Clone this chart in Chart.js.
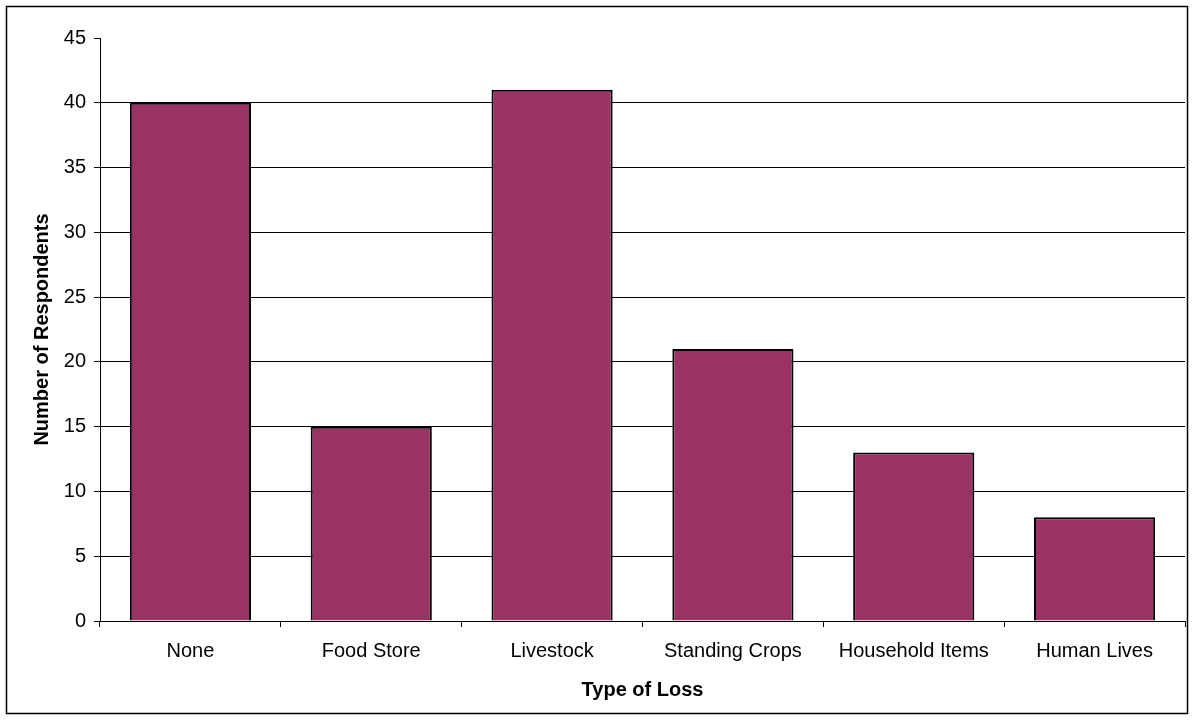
<!DOCTYPE html>
<html>
<head>
<meta charset="utf-8">
<title>Type of Loss</title>
<script src="https://cdn.jsdelivr.net/npm/chart.js@4/dist/chart.umd.min.js"></script>
<style>
  body { margin: 0; background: #fff; }
  #wrap { width: 1194px; height: 720px; }
</style>
</head>
<body>
<div id="wrap"><canvas id="chart" width="1194" height="720"></canvas></div>
<script>
var categories = ["None", "Food Store", "Livestock", "Standing Crops", "Household Items", "Human Lives"];
var respondents = [40, 15, 41, 21, 13, 8];
var yTicks = [0, 5, 10, 15, 20, 25, 30, 35, 40, 45];

// outer frame like the excel chart border
var frame = {
  id: 'frame',
  afterDraw: function(chart) {
    var ctx = chart.ctx;
    ctx.save();
    ctx.strokeStyle = '#000';
    ctx.lineWidth = 1.5;
    ctx.strokeRect(6.5, 6.5, 1181, 707);
    ctx.restore();
  }
};

var tickFont = { family: "'Liberation Sans', Arial, sans-serif", size: 20 };
var titleFont = { family: "'Liberation Sans', Arial, sans-serif", size: 20, weight: 'bold' };

new Chart(document.getElementById("chart"), {
  type: 'bar',
  data: {
    labels: categories,
    datasets: [{
      label: "Respondents",
      data: respondents,
      backgroundColor: "#993366",
      borderColor: "#000",
      borderWidth: 2,
      barPercentage: 0.67,
      categoryPercentage: 1
    }]
  },
  options: {
    responsive: false,
    animation: false,
    layout: { padding: { left: 8, top: 38, right: 9, bottom: 8 } },
    plugins: {
      legend: { display: false },
      tooltip: { enabled: false }
    },
    scales: {
      x: {
        grid: { display: true, offset: true, drawOnChartArea: false, color: '#000', tickLength: 6 },
        border: { color: '#000', width: 1 },
        ticks: { color: '#000', font: tickFont, padding: 12, maxRotation: 0 },
        title: { display: true, text: 'Type of Loss', color: '#000', font: titleFont, padding: { top: 0, bottom: 10 } },
        afterFit: function(scale) { scale.height = 91; }
      },
      y: {
        min: 0,
        max: 45,
        afterBuildTicks: function(scale) {
          scale.ticks = yTicks.map(function(v) { return { value: v }; });
        },
        grid: {
          color: function(c) { return c.tick && c.tick.value === 45 ? 'rgba(0,0,0,0)' : '#000'; },
          tickColor: '#000',
          lineWidth: 1,
          tickLength: 6
        },
        border: { color: '#000', width: 1 },
        ticks: { color: '#000', font: tickFont, padding: 8 },
        title: { display: true, text: 'Number of Respondents', color: '#000', font: titleFont, padding: { top: 22, bottom: 0 } },
        afterFit: function(scale) { scale.width = 92; }
      }
    }
  },
  plugins: [frame]
});
</script>
</body>
</html>
